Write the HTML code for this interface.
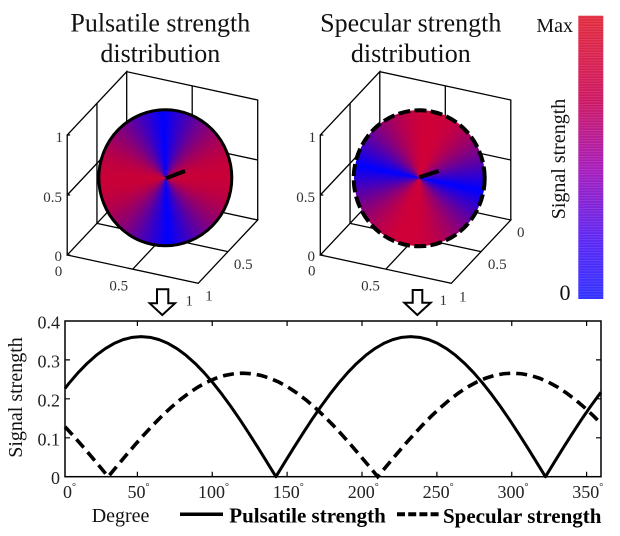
<!DOCTYPE html>
<html><head><meta charset="utf-8"><style>
html,body{margin:0;padding:0;background:#fff;}
body{width:620px;height:536px;position:relative;overflow:hidden;font-family:"Liberation Serif",serif;}
svg{position:absolute;left:0;top:0;}
.disk{position:absolute;border-radius:50%;}
</style></head><body>
<svg width="620" height="536" viewBox="0 0 620 536" font-family="Liberation Serif, serif">
<!-- titles -->
<g fill="#111" font-size="26" text-anchor="middle">
<text x="160.3" y="31.7">Pulsatile strength</text>
<text x="160.3" y="62">distribution</text>
<text x="410.8" y="31.7">Specular strength</text>
<text x="410.8" y="62">distribution</text>
</g>
<!-- 3D boxes -->
<g id="box" fill="none" stroke="#000" stroke-width="1.3">
<path d="M126.7,191.7 L257.7,220 L198.2,283.3 L67.2,255 Z"/>
<path d="M192.2,205.85 L132.7,269.15"/>
<path d="M96.95,223.35 L227.95,251.65"/>
<path d="M67.2,255 L67.2,135 L126.7,71.7 L126.7,191.7"/>
<path d="M96.95,223.35 L96.95,103.35"/>
<path d="M67.2,195 L126.7,131.7"/>
<path d="M126.7,71.7 L257.7,100 L257.7,220"/>
<path d="M192.2,205.85 L192.2,85.85"/>
<path d="M126.7,131.7 L257.7,160"/>
<path d="M67.2,135 L70.2,135 M67.2,195 L70.2,195 M67.2,255 L70.2,255"/>
</g>
<g transform="translate(253.1,0)" fill="none" stroke="#000" stroke-width="1.3">
<path d="M126.7,191.7 L257.7,220 L198.2,283.3 L67.2,255 Z"/>
<path d="M192.2,205.85 L132.7,269.15"/>
<path d="M96.95,223.35 L227.95,251.65"/>
<path d="M67.2,255 L67.2,135 L126.7,71.7 L126.7,191.7"/>
<path d="M96.95,223.35 L96.95,103.35"/>
<path d="M67.2,195 L126.7,131.7"/>
<path d="M126.7,71.7 L257.7,100 L257.7,220"/>
<path d="M192.2,205.85 L192.2,85.85"/>
<path d="M126.7,131.7 L257.7,160"/>
<path d="M67.2,135 L70.2,135 M67.2,195 L70.2,195 M67.2,255 L70.2,255"/>
</g>
<!-- 3D tick labels -->
<g fill="#333" font-size="15">
<g text-anchor="end">
<text x="63" y="142">1</text>
<text x="62" y="202">0.5</text>
<text x="62" y="261">0</text>
<text x="316" y="142">1</text>
<text x="315" y="202">0.5</text>
<text x="315" y="261">0</text>
</g>
<g text-anchor="middle">
<text x="58.5" y="276">0</text>
<text x="118.7" y="290.5">0.5</text>
<text x="189.3" y="305.5">1</text>
<text x="209" y="300.5">1</text>
<text x="243.3" y="268.8">0.5</text>
<text x="311.7" y="275.5">0</text>
<text x="370.5" y="290.5">0.5</text>
<text x="443.3" y="305">1</text>
<text x="462.7" y="301.5">1</text>
<text x="497.3" y="268.8">0.5</text>
<text x="520.7" y="237.2">0</text>
</g>
</g>
<!-- colorbar -->
<defs>
<linearGradient id="cb" x1="0" y1="0" x2="0" y2="1">
<stop offset="0" stop-color="rgb(226,45,62)"/>
<stop offset="0.3" stop-color="rgb(205,25,100)"/>
<stop offset="0.55" stop-color="rgb(165,30,190)"/>
<stop offset="0.8" stop-color="rgb(90,40,245)"/>
<stop offset="1" stop-color="rgb(50,50,255)"/>
</linearGradient>
<pattern id="stripes" width="25" height="2.6" patternUnits="userSpaceOnUse">
<rect x="0" y="0" width="25" height="0.8" fill="rgba(255,255,255,0.13)"/>
</pattern>
</defs>
<rect x="578.3" y="15.7" width="25" height="283.3" fill="url(#cb)"/>
<rect x="578.3" y="15.7" width="25" height="283.3" fill="url(#stripes)"/>
<text x="573" y="32" font-size="20" text-anchor="end" fill="#111">Max</text>
<text x="570.5" y="300" font-size="22" text-anchor="end" fill="#111">0</text>
<text transform="translate(565,159) rotate(-90)" font-size="20" text-anchor="middle" fill="#111">Signal strength</text>
<!-- arrows -->
<g fill="#fff" stroke="#000" stroke-width="2" stroke-linejoin="miter">
<path d="M157,289.3 L168.3,289.3 L168.3,303.3 L175,303.3 L162.3,315 L149.7,303.3 L157,303.3 Z"/>
<path d="M412.7,290 L422.3,290 L422.3,302.7 L430.7,302.7 L417.3,315 L404.3,302.7 L412.7,302.7 Z"/>
</g>
<!-- bottom chart -->
<g stroke="#000" stroke-width="1.2" fill="none">
<path d="M70,359.9 L65,359.9 M70,398.8 L65,398.8 M70,437.8 L65,437.8"/>
<path d="M596,359.9 L601,359.9 M596,398.8 L601,398.8 M596,437.8 L601,437.8"/>
<path d="M137.4,476.7 V471.7 M212.25,476.7 V471.7 M287.1,476.7 V471.7 M362,476.7 V471.7 M436.9,476.7 V471.7 M511.75,476.7 V471.7 M586.6,476.7 V471.7"/>
<path d="M137.4,321 V326 M212.25,321 V326 M287.1,321 V326 M362,321 V326 M436.9,321 V326 M511.75,321 V326 M586.6,321 V326"/>
</g>
<polyline fill="none" stroke="#000" stroke-width="3" stroke-linejoin="round" points="65,388.5 69.24,382.94 78.22,372.57 87.21,363.33 96.19,355.34 105.18,348.69 114.16,343.42 123.15,339.64 132.13,337.34 141.12,336.57 150.11,337.34 159.09,339.64 168.08,343.42 177.06,348.69 186.05,355.34 195.03,363.33 204.02,372.57 213,382.94 221.99,394.33 230.97,406.63 239.96,419.71 248.94,433.4 257.93,447.57 266.91,462.06 275.9,476.7 284.88,462.06 293.87,447.57 302.85,433.4 311.84,419.71 320.82,406.63 329.81,394.33 338.79,382.94 347.78,372.57 356.76,363.33 365.75,355.34 374.73,348.69 383.72,343.42 392.7,339.64 401.69,337.34 410.67,336.57 419.66,337.34 428.64,339.64 437.63,343.42 446.61,348.69 455.6,355.34 464.58,363.33 473.57,372.57 482.55,382.94 491.54,394.33 500.52,406.63 509.51,419.71 518.49,433.4 527.48,447.57 536.46,462.06 545.45,476.7 554.43,462.06 563.42,447.57 572.4,433.4 581.39,419.71 590.37,406.63 599.36,394.33 601,392.3"/>
<polyline fill="none" stroke="#000" stroke-width="3.6" stroke-dasharray="11 6" points="65,426.76 72.24,434.59 81.22,444.71 90.21,455.17 99.19,465.88 108.18,476.7 117.16,465.88 126.15,455.17 135.13,444.71 144.12,434.59 153.1,424.93 162.09,415.84 171.07,407.42 180.06,399.76 189.04,392.94 198.03,387.03 207.01,382.12 216,378.22 224.98,375.43 233.97,373.73 242.95,373.16 251.94,373.73 260.92,375.43 269.91,378.22 278.89,382.12 287.88,387.03 296.86,392.94 305.85,399.76 314.83,407.42 323.82,415.84 332.8,424.93 341.79,434.59 350.77,444.71 359.76,455.17 368.74,465.88 377.73,476.7 386.71,465.88 395.7,455.17 404.68,444.71 413.67,434.59 422.65,424.93 431.64,415.84 440.62,407.42 449.61,399.76 458.59,392.94 467.58,387.03 476.56,382.12 485.55,378.22 494.53,375.43 503.52,373.73 512.5,373.16 521.49,373.73 530.47,375.43 539.46,378.22 548.44,382.12 557.43,387.03 566.41,392.94 575.4,399.76 584.38,407.42 593.37,415.84 601,423.5"/>
<rect x="65" y="321" width="536" height="155.7" fill="none" stroke="#000" stroke-width="1.5"/>
<!-- y tick labels -->
<g fill="#222" font-size="18" text-anchor="end">
<text x="60" y="328.5">0.4</text>
<text x="60" y="367.4">0.3</text>
<text x="60" y="406.3">0.2</text>
<text x="60" y="445.3">0.1</text>
<text x="60" y="484.2">0</text>
</g>
<!-- x tick labels -->
<g fill="#222" font-size="18" text-anchor="middle">
<text x="69.5" y="498">0<tspan font-size="10" dy="-8">°</tspan></text>
<text x="138.5" y="498">50<tspan font-size="10" dy="-8">°</tspan></text>
<text x="213.5" y="498">100<tspan font-size="10" dy="-8">°</tspan></text>
<text x="288.3" y="498">150<tspan font-size="10" dy="-8">°</tspan></text>
<text x="363.2" y="498">200<tspan font-size="10" dy="-8">°</tspan></text>
<text x="438.1" y="498">250<tspan font-size="10" dy="-8">°</tspan></text>
<text x="513" y="498">300<tspan font-size="10" dy="-8">°</tspan></text>
<text x="587.8" y="498">350<tspan font-size="10" dy="-8">°</tspan></text>
</g>
<text transform="translate(22,397.5) rotate(-90)" font-size="20" text-anchor="middle" fill="#111">Signal strength</text>
<!-- legend -->
<text x="91.7" y="522" font-size="20" fill="#111">Degree</text>
<line x1="180" y1="514.3" x2="223" y2="514.3" stroke="#000" stroke-width="3.5"/>
<text x="229.3" y="522.7" font-size="21" font-weight="bold" fill="#000">Pulsatile strength</text>
<line x1="397" y1="514.3" x2="441" y2="514.3" stroke="#000" stroke-width="4" stroke-dasharray="8 3.2"/>
<text x="443" y="523" font-size="21" font-weight="bold" fill="#000">Specular strength</text>
</svg>

<div class="disk" style="left:98.8px;top:109.8px;width:133px;height:136px;background:repeating-conic-gradient(from -2deg, rgb(0,0,255) 0deg, rgb(35,0,220) 10deg, rgb(68,0,187) 20deg, rgb(100,0,155) 30deg, rgb(129,0,126) 40deg, rgb(153,0,102) 50deg, rgb(173,0,82) 60deg, rgb(188,0,67) 70deg, rgb(197,0,58) 80deg, rgb(200,0,55) 90deg, rgb(197,0,58) 100deg, rgb(188,0,67) 110deg, rgb(173,0,82) 120deg, rgb(153,0,102) 130deg, rgb(129,0,126) 140deg, rgb(100,0,155) 150deg, rgb(68,0,187) 160deg, rgb(35,0,220) 170deg, rgb(0,0,255) 180deg);"></div>
<div class="disk" style="left:353.7px;top:110.3px;width:131px;height:136px;background:repeating-conic-gradient(from 101.5deg, rgb(0,0,255) 0deg, rgb(36,0,220) 10deg, rgb(71,0,187) 20deg, rgb(104,0,155) 30deg, rgb(134,0,126) 40deg, rgb(160,0,102) 50deg, rgb(180,0,82) 60deg, rgb(196,0,67) 70deg, rgb(205,0,58) 80deg, rgb(208,0,55) 90deg, rgb(205,0,58) 100deg, rgb(196,0,67) 110deg, rgb(180,0,82) 120deg, rgb(160,0,102) 130deg, rgb(134,0,126) 140deg, rgb(104,0,155) 150deg, rgb(71,0,187) 160deg, rgb(36,0,220) 170deg, rgb(0,0,255) 180deg);"></div>

<svg width="620" height="536" viewBox="0 0 620 536">
<ellipse cx="165.3" cy="177.8" rx="66.5" ry="68" fill="none" stroke="#000" stroke-width="3"/>
<line x1="166" y1="178.3" x2="185" y2="171" stroke="#000" stroke-width="4"/>
<ellipse cx="419.2" cy="178.3" rx="65.5" ry="68" fill="none" stroke="#000" stroke-width="4" stroke-dasharray="12 4.3"/>
<line x1="419.3" y1="177.3" x2="438.7" y2="171" stroke="#000" stroke-width="4"/>
</svg>
</body></html>
